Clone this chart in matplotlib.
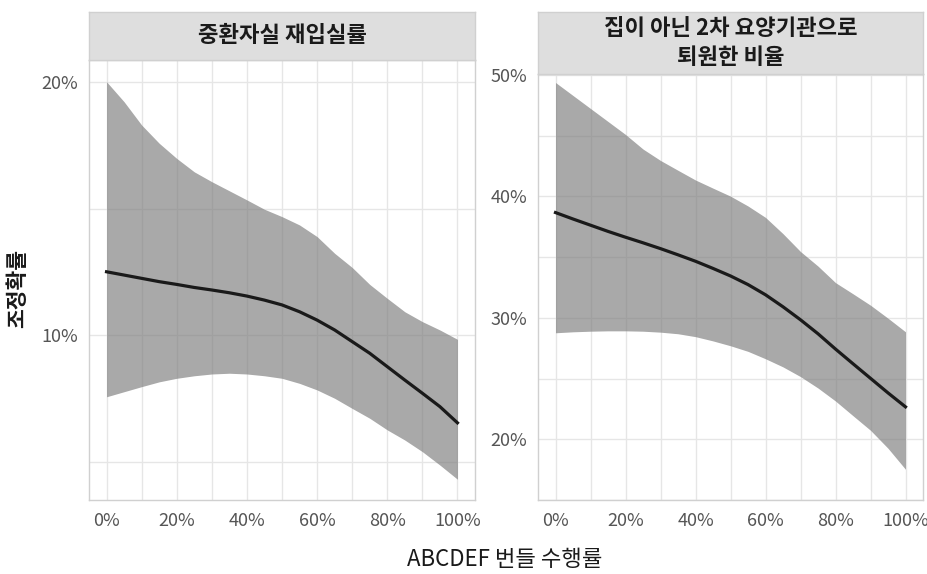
import matplotlib
matplotlib.use("Agg")
import matplotlib.pyplot as plt
import numpy as np

plt.rcParams['font.family'] = ['Noto Sans CJK KR', 'DejaVu Sans']

# bundle adherence rate (x axis), read every 5%
x = [0.0, 0.05, 0.1, 0.15, 0.2, 0.25, 0.3, 0.35, 0.4, 0.45, 0.5,
     0.55, 0.6, 0.65, 0.7, 0.75, 0.8, 0.85, 0.9, 0.95, 1.0]

# panel 1: ICU readmission (%)
icu_fit = [12.50, 12.37, 12.24, 12.11, 12.00, 11.88, 11.78, 11.67, 11.54, 11.38, 11.19,
           10.92, 10.59, 10.20, 9.74, 9.28, 8.75, 8.22, 7.70, 7.17, 6.53]
icu_lo = [7.56, 7.76, 7.96, 8.15, 8.29, 8.39, 8.46, 8.49, 8.46, 8.39, 8.29,
          8.09, 7.83, 7.50, 7.10, 6.71, 6.25, 5.85, 5.39, 4.86, 4.30]
icu_hi = [20.01, 19.22, 18.30, 17.58, 16.98, 16.45, 16.06, 15.70, 15.34, 14.97, 14.68,
          14.35, 13.89, 13.23, 12.67, 12.00, 11.45, 10.92, 10.53, 10.20, 9.83]

# panel 2: discharged to non-home facility (%)
dis_fit = [38.67, 38.14, 37.63, 37.12, 36.64, 36.18, 35.70, 35.19, 34.66, 34.07, 33.45,
           32.74, 31.90, 30.91, 29.84, 28.69, 27.43, 26.22, 25.02, 23.82, 22.67]
dis_lo = [28.77, 28.85, 28.90, 28.93, 28.93, 28.90, 28.82, 28.69, 28.45, 28.10, 27.70,
          27.24, 26.63, 25.96, 25.16, 24.22, 23.15, 21.94, 20.74, 19.26, 17.53]
dis_hi = [49.38, 48.31, 47.24, 46.17, 45.10, 43.90, 42.96, 42.15, 41.35, 40.68, 40.02,
          39.21, 38.27, 36.93, 35.46, 34.26, 32.90, 31.98, 31.04, 29.97, 28.85]

titles = ['중환자실 재입실률', '집이 아닌 2차 요양기관으로\n퇴원한 비율']
xticks = [0, 0.2, 0.4, 0.6, 0.8, 1.0]
xticklabels = ['0%', '20%', '40%', '60%', '80%', '100%']
yticks1 = [10, 20]
yticks2 = [20, 30, 40, 50]

W, H = 928, 574
fig = plt.figure(figsize=(W / 100, H / 100), dpi=100)

def box(l, t, r, b):
    return [l / W, 1 - b / H, (r - l) / W, (b - t) / H]

panels = [
    (box(89, 60, 475, 500), box(89, 12, 475, 60), icu_fit, icu_lo, icu_hi,
     yticks1, (3.48, 20.87), titles[0]),
    (box(538, 74, 923, 500), box(538, 12, 923, 74), dis_fit, dis_lo, dis_hi,
     yticks2, (15.73, 50.08), titles[1]),
]

for rect, srect, fit, lo, hi, yt, ylim, title in panels:
    ax = fig.add_axes(rect)
    ax.fill_between(x, lo, hi, color='#808080', alpha=0.68, lw=0, zorder=2)
    ax.plot(x, fit, color='#1a1a1a', lw=2.3, zorder=3)
    ax.set_xlim(-0.05, 1.05)
    ax.set_ylim(*ylim)
    ax.set_xticks(xticks)
    ax.set_xticklabels(xticklabels)
    ax.set_xticks(np.arange(0.1, 1.0, 0.2), minor=True)
    ax.set_yticks(yt)
    ax.set_yticklabels([f'{v}%' for v in yt])
    ax.set_yticks([v + 5 for v in yt[:-1]] + [yt[0] - 5], minor=True)
    ax.grid(True, which='both', color='#e6e6e6', lw=1.0, zorder=0)
    ax.set_axisbelow(True)
    ax.tick_params(which='both', length=0)
    ax.tick_params(axis='x', pad=9, labelsize=13, colors='#555555')
    ax.tick_params(axis='y', pad=8, labelsize=13, colors='#555555')
    for s in ax.spines.values():
        s.set_color('#d0d0d0')
        s.set_linewidth(1.0)

    sax = fig.add_axes(srect)
    sax.set_facecolor('#dedede')
    sax.set_xticks([])
    sax.set_yticks([])
    for s in sax.spines.values():
        s.set_color('#d0d0d0')
        s.set_linewidth(1.0)
    sax.text(0.5, 0.5, title, ha='center', va='center', fontsize=16,
             fontweight='bold', color='#1a1a1a', linespacing=1.3,
             transform=sax.transAxes)

fig.text(18 / W, 1 - 288 / H, '조정확률', rotation=90, ha='center', va='center',
         fontsize=15.5, fontweight='bold', color='#1a1a1a')
fig.text(505 / W, 1 - 559 / H, 'ABCDEF 번들 수행률', ha='center', va='center',
         fontsize=16, color='#1a1a1a')

fig.savefig('out.png', dpi=100)
